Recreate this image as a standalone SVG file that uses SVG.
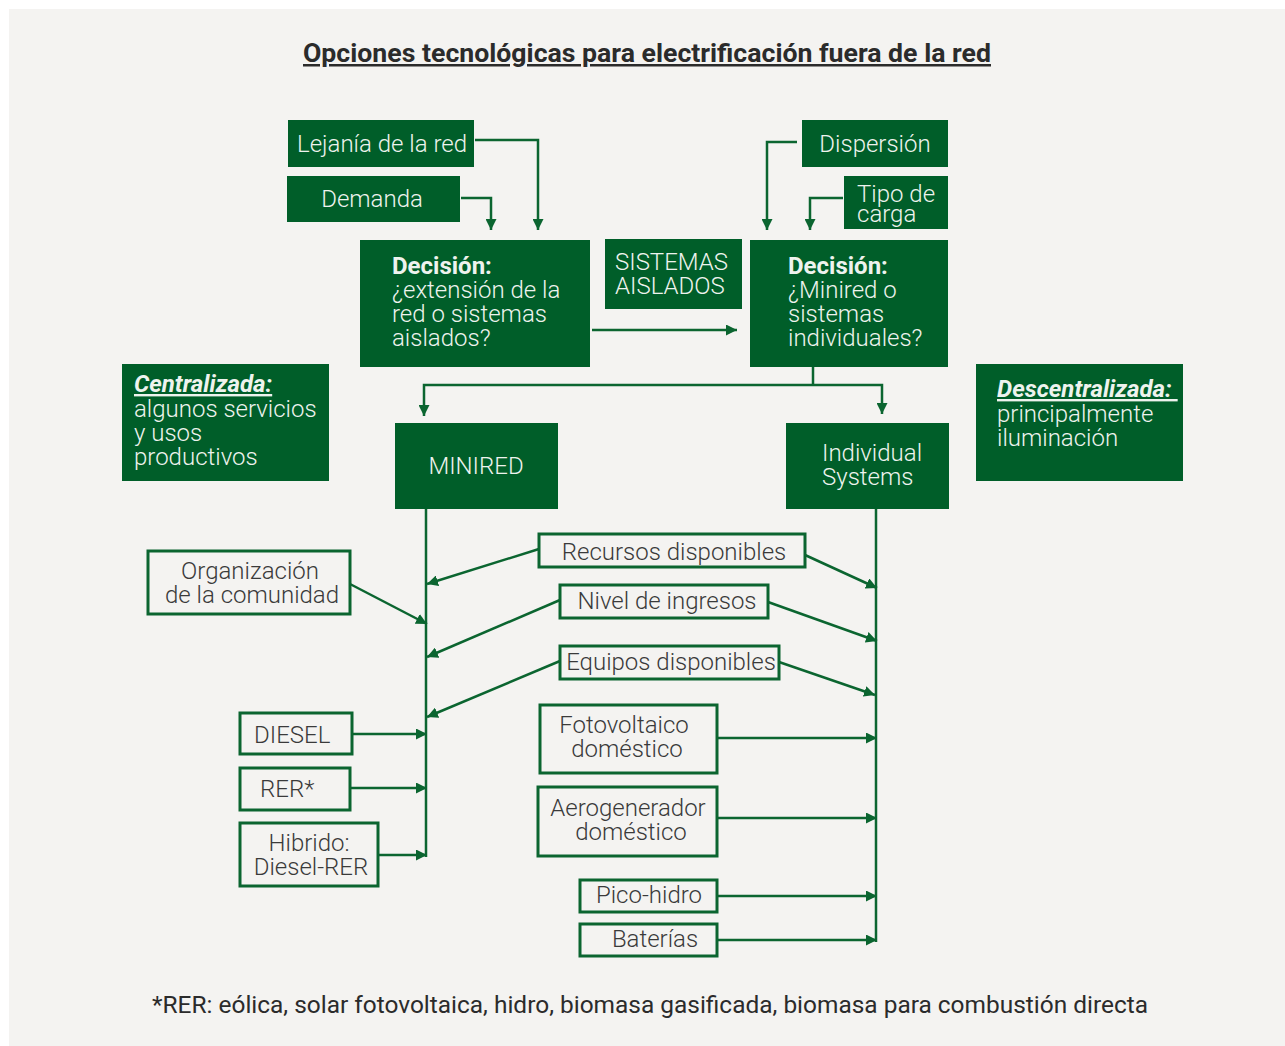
<svg xmlns="http://www.w3.org/2000/svg" width="1285" height="1046" viewBox="0 0 1285 1046">
  <defs>
    <marker id="arrow" viewBox="0 0 10 10" refX="10" refY="5" markerWidth="11" markerHeight="11" markerUnits="userSpaceOnUse" orient="auto">
      <path d="M0,0 L10,5 L0,10 z" fill="#0b6530"/>
    </marker>
    <style>
      .solid { fill: #005e29; }
      .outline { fill: none; stroke: #0b6530; stroke-width: 3; }
      .wt { font-family: Roboto, "Noto Sans", sans-serif; font-weight: 300; font-size: 24px; fill: #eef3ee; }
      .wb { font-weight: 700; }
      .dt { font-family: Roboto, "Noto Sans", sans-serif; font-weight: 300; font-size: 24px; fill: #3a3a3a; }
      .link { fill: none; stroke: #0b6530; stroke-width: 2.5; }
      .arr { marker-end: url(#arrow); }
    </style>
  </defs>

  <!-- page -->
  <rect x="0" y="0" width="1285" height="1046" fill="#ffffff"/>
  <rect x="9" y="9" width="1276" height="1037" fill="#f4f3f1"/>

  <!-- title -->
  <text x="647" y="62" text-anchor="middle" textLength="688" lengthAdjust="spacingAndGlyphs" font-family="Roboto, 'Noto Sans', sans-serif" font-weight="700" font-size="25" fill="#2b2b2b" text-decoration="underline">Opciones tecnológicas para electrificación fuera de la red</text>

  <!-- connectors -->
  <g id="connectors">
    <polyline class="link arr" points="475,140 538,140 538,230"/>
    <polyline class="link arr" points="461,198 491,198 491,230"/>
    <polyline class="link arr" points="797,142 767,142 767,230"/>
    <polyline class="link arr" points="843,198 810,198 810,230"/>
    <line class="link arr" x1="592" y1="330" x2="737" y2="330"/>
    <polyline class="link" points="813,367 813,385"/>
    <polyline class="link arr" points="813,385 424,385 424,416"/>
    <polyline class="link arr" points="813,385 882,385 882,414"/>
    <!-- trunks -->
    <line class="link" x1="426" y1="509" x2="426" y2="857"/>
    <line class="link" x1="876" y1="509" x2="876" y2="942"/>
    <!-- shared factors -->
    <line class="link arr" x1="539" y1="549" x2="427" y2="584"/>
    <line class="link arr" x1="805" y1="555" x2="877" y2="588"/>
    <line class="link arr" x1="560" y1="600" x2="427" y2="657"/>
    <line class="link arr" x1="768" y1="602" x2="877" y2="641"/>
    <line class="link arr" x1="560" y1="661" x2="427" y2="717"/>
    <line class="link arr" x1="779" y1="662" x2="875" y2="695"/>
    <line class="link arr" x1="350" y1="584" x2="427" y2="624"/>
    <!-- minired sources -->
    <line class="link arr" x1="352" y1="734" x2="427" y2="734"/>
    <line class="link arr" x1="350" y1="788" x2="427" y2="788"/>
    <line class="link arr" x1="378" y1="855" x2="427" y2="855"/>
    <!-- individual sources -->
    <line class="link arr" x1="717" y1="738" x2="877" y2="738"/>
    <line class="link arr" x1="717" y1="818" x2="877" y2="818"/>
    <line class="link arr" x1="717" y1="896" x2="877" y2="896"/>
    <line class="link arr" x1="717" y1="940" x2="877" y2="940"/>
  </g>

  <g id="lejania">
    <rect class="solid" x="288" y="120" width="186" height="47"/>
    <text class="wt" x="297" y="152">Lejanía de la red</text>
  </g>
  <g id="demanda">
    <rect class="solid" x="287" y="176" width="173" height="46"/>
    <text class="wt" x="372" y="207" text-anchor="middle">Demanda</text>
  </g>
  <g id="decision-red">
    <rect class="solid" x="360" y="240" width="230" height="127"/>
    <text class="wt" x="392" y="274"><tspan class="wb">Decisión:</tspan><tspan x="392" dy="24">¿extensión de la</tspan><tspan x="392" dy="24">red o sistemas</tspan><tspan x="392" dy="24">aislados?</tspan></text>
  </g>
  <g id="sistemas-aislados">
    <rect class="solid" x="605" y="239" width="137" height="70"/>
    <text class="wt" x="615" y="270">SISTEMAS<tspan x="615" dy="24">AISLADOS</tspan></text>
  </g>
  <g id="dispersion">
    <rect class="solid" x="802" y="120" width="146" height="47"/>
    <text class="wt" x="875" y="152" text-anchor="middle">Dispersión</text>
  </g>
  <g id="tipo-carga">
    <rect class="solid" x="844" y="176" width="104" height="53"/>
    <text class="wt" x="857" y="202" font-size="23">Tipo de<tspan x="857" dy="20">carga</tspan></text>
  </g>
  <g id="decision-minired">
    <rect class="solid" x="750" y="240" width="198" height="127"/>
    <text class="wt" x="788" y="274"><tspan class="wb">Decisión:</tspan><tspan x="788" dy="24">¿Minired o</tspan><tspan x="788" dy="24">sistemas</tspan><tspan x="788" dy="24">individuales?</tspan></text>
  </g>
  <g id="centralizada">
    <rect class="solid" x="122" y="364" width="207" height="117"/>
    <text class="wt" x="134" y="392"><tspan class="wb" font-style="italic" text-decoration="underline">Centralizada:</tspan><tspan x="134" dy="25">algunos servicios</tspan><tspan x="134" dy="24">y usos</tspan><tspan x="134" dy="24">productivos</tspan></text>
  </g>
  <g id="minired">
    <rect class="solid" x="395" y="423" width="163" height="86"/>
    <text class="wt" x="476" y="474" text-anchor="middle">MINIRED</text>
  </g>
  <g id="individual">
    <rect class="solid" x="786" y="423" width="163" height="86"/>
    <text class="wt" x="822" y="461">Individual<tspan x="822" dy="24">Systems</tspan></text>
  </g>
  <g id="descentralizada">
    <rect class="solid" x="976" y="364" width="207" height="117"/>
    <text class="wt" x="997" y="397"><tspan class="wb" font-style="italic" text-decoration="underline">Descentralizada: </tspan><tspan x="997" dy="25">principalmente</tspan><tspan x="997" dy="24">iluminación</tspan></text>
  </g>

  <g id="recursos">
    <rect class="outline" x="539" y="534" width="266" height="33"/>
    <text class="dt" x="674" y="560" text-anchor="middle">Recursos disponibles</text>
  </g>
  <g id="ingresos">
    <rect class="outline" x="560" y="585" width="208" height="33"/>
    <text class="dt" x="667" y="609" text-anchor="middle">Nivel de ingresos</text>
  </g>
  <g id="equipos">
    <rect class="outline" x="560" y="646" width="219" height="33"/>
    <text class="dt" x="671" y="670" text-anchor="middle">Equipos disponibles</text>
  </g>
  <g id="organizacion">
    <rect class="outline" x="148" y="551" width="202" height="63"/>
    <text class="dt" x="250" y="579" text-anchor="middle">Organización<tspan x="252" dy="24">de la comunidad</tspan></text>
  </g>
  <g id="diesel">
    <rect class="outline" x="240" y="713" width="112" height="41"/>
    <text class="dt" x="254" y="743">DIESEL</text>
  </g>
  <g id="rer">
    <rect class="outline" x="240" y="768" width="110" height="42"/>
    <text class="dt" x="260" y="797">RER*</text>
  </g>
  <g id="hibrido">
    <rect class="outline" x="240" y="823" width="138" height="63"/>
    <text class="dt" x="309" y="851" text-anchor="middle">Hibrido:<tspan x="311" dy="24">Diesel-RER</tspan></text>
  </g>
  <g id="fotovoltaico">
    <rect class="outline" x="540" y="705" width="177" height="68"/>
    <text class="dt" x="624" y="733" text-anchor="middle">Fotovoltaico<tspan x="627" dy="24">doméstico</tspan></text>
  </g>
  <g id="aerogenerador">
    <rect class="outline" x="538" y="787" width="179" height="69"/>
    <text class="dt" x="628" y="816" text-anchor="middle">Aerogenerador<tspan x="631" dy="24">doméstico</tspan></text>
  </g>
  <g id="pico-hidro">
    <rect class="outline" x="580" y="880" width="137" height="32"/>
    <text class="dt" x="649" y="903" text-anchor="middle">Pico-hidro</text>
  </g>
  <g id="baterias">
    <rect class="outline" x="580" y="924" width="137" height="32"/>
    <text class="dt" x="655" y="947" text-anchor="middle">Baterías</text>
  </g>

  <!-- footnote -->
  <text x="650" y="1013" text-anchor="middle" textLength="996" lengthAdjust="spacingAndGlyphs" font-family="Roboto, 'Noto Sans', sans-serif" font-size="24" fill="#2b2b2b">*RER: eólica, solar fotovoltaica, hidro, biomasa gasificada, biomasa para combustión directa</text>
</svg>
